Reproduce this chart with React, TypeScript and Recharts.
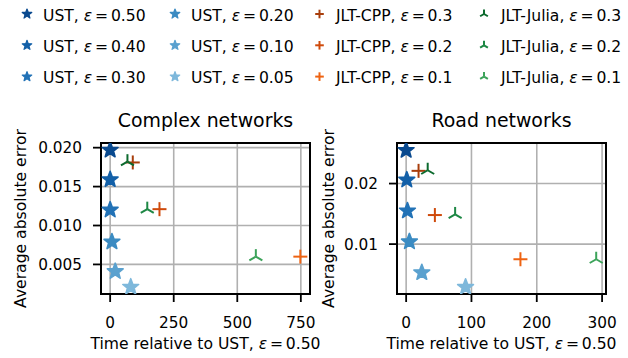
import { CartesianGrid, ReferenceArea, Scatter, ScatterChart, XAxis, YAxis } from "recharts";

const FONT = '"DejaVu Sans", sans-serif';

// epsilon labels
const epsUST = ["0.50", "0.40", "0.30", "0.20", "0.10", "0.05"];
const epsJLT = ["0.3", "0.2", "0.1"];

// complex networks
const complexUSTTime = [0, 0, 0, 7, 20, 81];
const complexUSTErr = [0.0197, 0.0159, 0.012, 0.0079, 0.0041, 0.0021];
const complexCPPTime = [89, 194, 748];
const complexCPPErr = [0.0181, 0.0121, 0.006];
const complexJuliaTime = [68, 146, 573];
const complexJuliaErr = [0.0182, 0.0121, 0.006];

// road networks
const roadUSTTime = [0, 1, 2, 5, 24, 91];
const roadUSTErr = [0.0255, 0.0206, 0.0155, 0.0104, 0.0053, 0.0029];
const roadCPPTime = [19, 44, 175];
const roadCPPErr = [0.0221, 0.0148, 0.0075];
const roadJuliaTime = [33, 75, 291];
const roadJuliaErr = [0.0222, 0.0149, 0.0075];

const complexXTicks = [0, 250, 500, 750];
const complexYTicks = [0.005, 0.01, 0.015, 0.02];
const roadXTicks = [0, 100, 200, 300];
const roadYTicks = [0.01, 0.02];

const ustColors = ["#0a4a8f", "#1360a8", "#2272b6", "#3b8bc2", "#5aa1cf", "#7eb8db"];
const cppColors = ["#a83e0c", "#cf4a0b", "#ee6312"];
const juliaColors = ["#0c6a2e", "#1d8744", "#3ca35a"];

const starPoints = (cx: number, cy: number, r: number) => {
  const pts: string[] = [];
  for (let k = 0; k < 10; k++) {
    const rr = k % 2 === 0 ? r : r * 0.42;
    const a = ((-90 + k * 36) * Math.PI) / 180;
    pts.push(`${cx + rr * Math.cos(a)},${cy + rr * Math.sin(a)}`);
  }
  return pts.join(" ");
};

const Star = ({ cx, cy, r, color, sw = 1.6 }: any) => (
  <polygon points={starPoints(cx, cy, r)} fill={color} stroke={color} strokeWidth={sw} strokeLinejoin="round" />
);

const Plus = ({ cx, cy, r, color }: any) => (
  <g stroke={color} strokeWidth={2}>
    <line x1={cx - r} y1={cy} x2={cx + r} y2={cy} />
    <line x1={cx} y1={cy - r} x2={cx} y2={cy + r} />
  </g>
);

const Tri = ({ cx, cy, r, color }: any) => (
  <g stroke={color} strokeWidth={2}>
    <line x1={cx} y1={cy} x2={cx} y2={cy - r} />
    <line x1={cx} y1={cy} x2={cx - 0.866 * r} y2={cy + 0.5 * r} />
    <line x1={cx} y1={cy} x2={cx + 0.866 * r} y2={cy + 0.5 * r} />
  </g>
);

// "ε = value" written like matplotlib mathtext
const EpsText = ({ value }: { value: string }) => (
  <>
    <tspan fontStyle="italic">ε</tspan>
    <tspan dx={2.8}>=</tspan>
    <tspan dx={2.8}>{value}</tspan>
  </>
);

const LABEL_FS = 15.6;
const tickStyle = { fontSize: 15.3, fill: "#000", fontFamily: FONT };
const lineStyle = { stroke: "#000", strokeWidth: 1.8 };

function Panel({ left, width, plotLeft, plotRight, title, xDomain, yDomain, xTicks, yTicks, yDigits, ust, cpp, julia, yLabelX }: any) {
  const xLabel = () => (
    <text x={(plotLeft + plotRight) / 2} y={349} textAnchor="middle" fontSize={LABEL_FS} fontFamily={FONT} fill="#000">
      Time relative to UST, <EpsText value="0.50" />
    </text>
  );
  const yLabel = () => {
    const cy = (143 + 294) / 2;
    return (
      <text x={yLabelX} y={cy} transform={`rotate(-90, ${yLabelX}, ${cy})`} textAnchor="middle" fontSize={LABEL_FS} fontFamily={FONT} fill="#000">
        Average absolute error
      </text>
    );
  };
  return (
    <div style={{ position: "absolute", left, top: 0, width, height: 358 }}>
      <div
        style={{
          position: "absolute",
          left: plotLeft - 20,
          width: plotRight - plotLeft + 40,
          top: 111,
          textAlign: "center",
          fontFamily: FONT,
          fontSize: 18.9,
          lineHeight: "18.9px",
          whiteSpace: "nowrap",
        }}
      >
        {title}
      </div>
      <ScatterChart width={width} height={358} margin={{ top: 143, right: width - plotRight, bottom: 0, left: 0 }} style={{ overflow: "visible" }}>
        <CartesianGrid stroke="#b0b0b0" strokeWidth={1.6} />
        <XAxis
          type="number"
          dataKey="x"
          domain={xDomain}
          ticks={xTicks}
          allowDataOverflow
          interval={0}
          height={64}
          tickSize={8}
          tickMargin={15}
          tick={tickStyle}
          tickLine={lineStyle}
          axisLine={false}
          label={xLabel}
        />
        <YAxis
          type="number"
          dataKey="y"
          domain={yDomain}
          ticks={yTicks}
          allowDataOverflow
          interval={0}
          width={plotLeft}
          tickSize={8}
          tickMargin={11}
          tick={tickStyle}
          tickLine={lineStyle}
          axisLine={false}
          tickFormatter={(v: number) => v.toFixed(yDigits)}
          label={yLabel}
        />
        <ReferenceArea
          x1={xDomain[0]}
          x2={xDomain[1]}
          y1={yDomain[0]}
          y2={yDomain[1]}
          fill="none"
          stroke="#000"
          strokeWidth={2}
          ifOverflow="visible"
        />
        {epsUST.map((e, i) => (
          <Scatter
            key={"u" + e}
            data={[{ x: ust.time[i], y: ust.err[i] }]}
            isAnimationActive={false}
            shape={(p: any) => <Star cx={p.cx} cy={p.cy} r={8.3} color={ustColors[i]} />}
          />
        ))}
        {epsJLT.map((e, i) => (
          <Scatter
            key={"c" + e}
            data={[{ x: cpp.time[i], y: cpp.err[i] }]}
            isAnimationActive={false}
            shape={(p: any) => <Plus cx={p.cx} cy={p.cy} r={7} color={cppColors[i]} />}
          />
        ))}
        {epsJLT.map((e, i) => (
          <Scatter
            key={"j" + e}
            data={[{ x: julia.time[i], y: julia.err[i] }]}
            isAnimationActive={false}
            shape={(p: any) => <Tri cx={p.cx} cy={p.cy} r={7.5} color={juliaColors[i]} />}
          />
        ))}
      </ScatterChart>
    </div>
  );
}

function Legend() {
  const rows = [15, 46.3, 77.6];
  const items: any[] = [];
  epsUST.forEach((e, i) => {
    const col = Math.floor(i / 3);
    const y = rows[i % 3];
    const mx = col === 0 ? 27 : 175;
    items.push({ key: "u" + e, mx, tx: mx + 16, y, label: "UST, ", eps: e, kind: "star", color: ustColors[i] });
  });
  epsJLT.forEach((e, i) => {
    items.push({ key: "c" + e, mx: 319.5, tx: 336, y: rows[i], label: "JLT-CPP, ", eps: e, kind: "plus", color: cppColors[i] });
    items.push({ key: "j" + e, mx: 484, tx: 501, y: rows[i], label: "JLT-Julia, ", eps: e, kind: "tri", color: juliaColors[i] });
  });
  return (
    <svg width={628} height={100} style={{ position: "absolute", left: 0, top: 0 }}>
      {items.map((it) => (
        <g key={it.key}>
          {it.kind === "star" && <Star cx={it.mx} cy={it.y - 1} r={5} sw={1.2} color={it.color} />}
          {it.kind === "plus" && <Plus cx={it.mx} cy={it.y - 1} r={4.3} color={it.color} />}
          {it.kind === "tri" && <Tri cx={it.mx} cy={it.y - 1} r={4.5} color={it.color} />}
          <text x={it.tx} y={it.y + 5.7} fontSize={LABEL_FS} fontFamily={FONT} fill="#000">
            {it.label}
            <EpsText value={it.eps} />
          </text>
        </g>
      ))}
    </svg>
  );
}

export default function App() {
  return (
    <div style={{ position: "absolute", left: 0, top: 0, width: 628, height: 358, background: "#fff", overflow: "hidden" }}>
      <Legend />
      <Panel
        left={0}
        width={320}
        plotLeft={101}
        plotRight={310}
        title="Complex networks"
        xDomain={[-36, 786]}
        yDomain={[0.0012, 0.0206]}
        xTicks={complexXTicks}
        yTicks={complexYTicks}
        yDigits={3}
        ust={{ time: complexUSTTime, err: complexUSTErr }}
        cpp={{ time: complexCPPTime, err: complexCPPErr }}
        julia={{ time: complexJuliaTime, err: complexJuliaErr }}
        yLabelX={25.5}
      />
      <Panel
        left={320}
        width={308}
        plotLeft={77}
        plotRight={286}
        title="Road networks"
        xDomain={[-14, 306]}
        yDomain={[0.00176, 0.0267]}
        xTicks={roadXTicks}
        yTicks={roadYTicks}
        yDigits={2}
        ust={{ time: roadUSTTime, err: roadUSTErr }}
        cpp={{ time: roadCPPTime, err: roadCPPErr }}
        julia={{ time: roadJuliaTime, err: roadJuliaErr }}
        yLabelX={14}
      />
    </div>
  );
}
